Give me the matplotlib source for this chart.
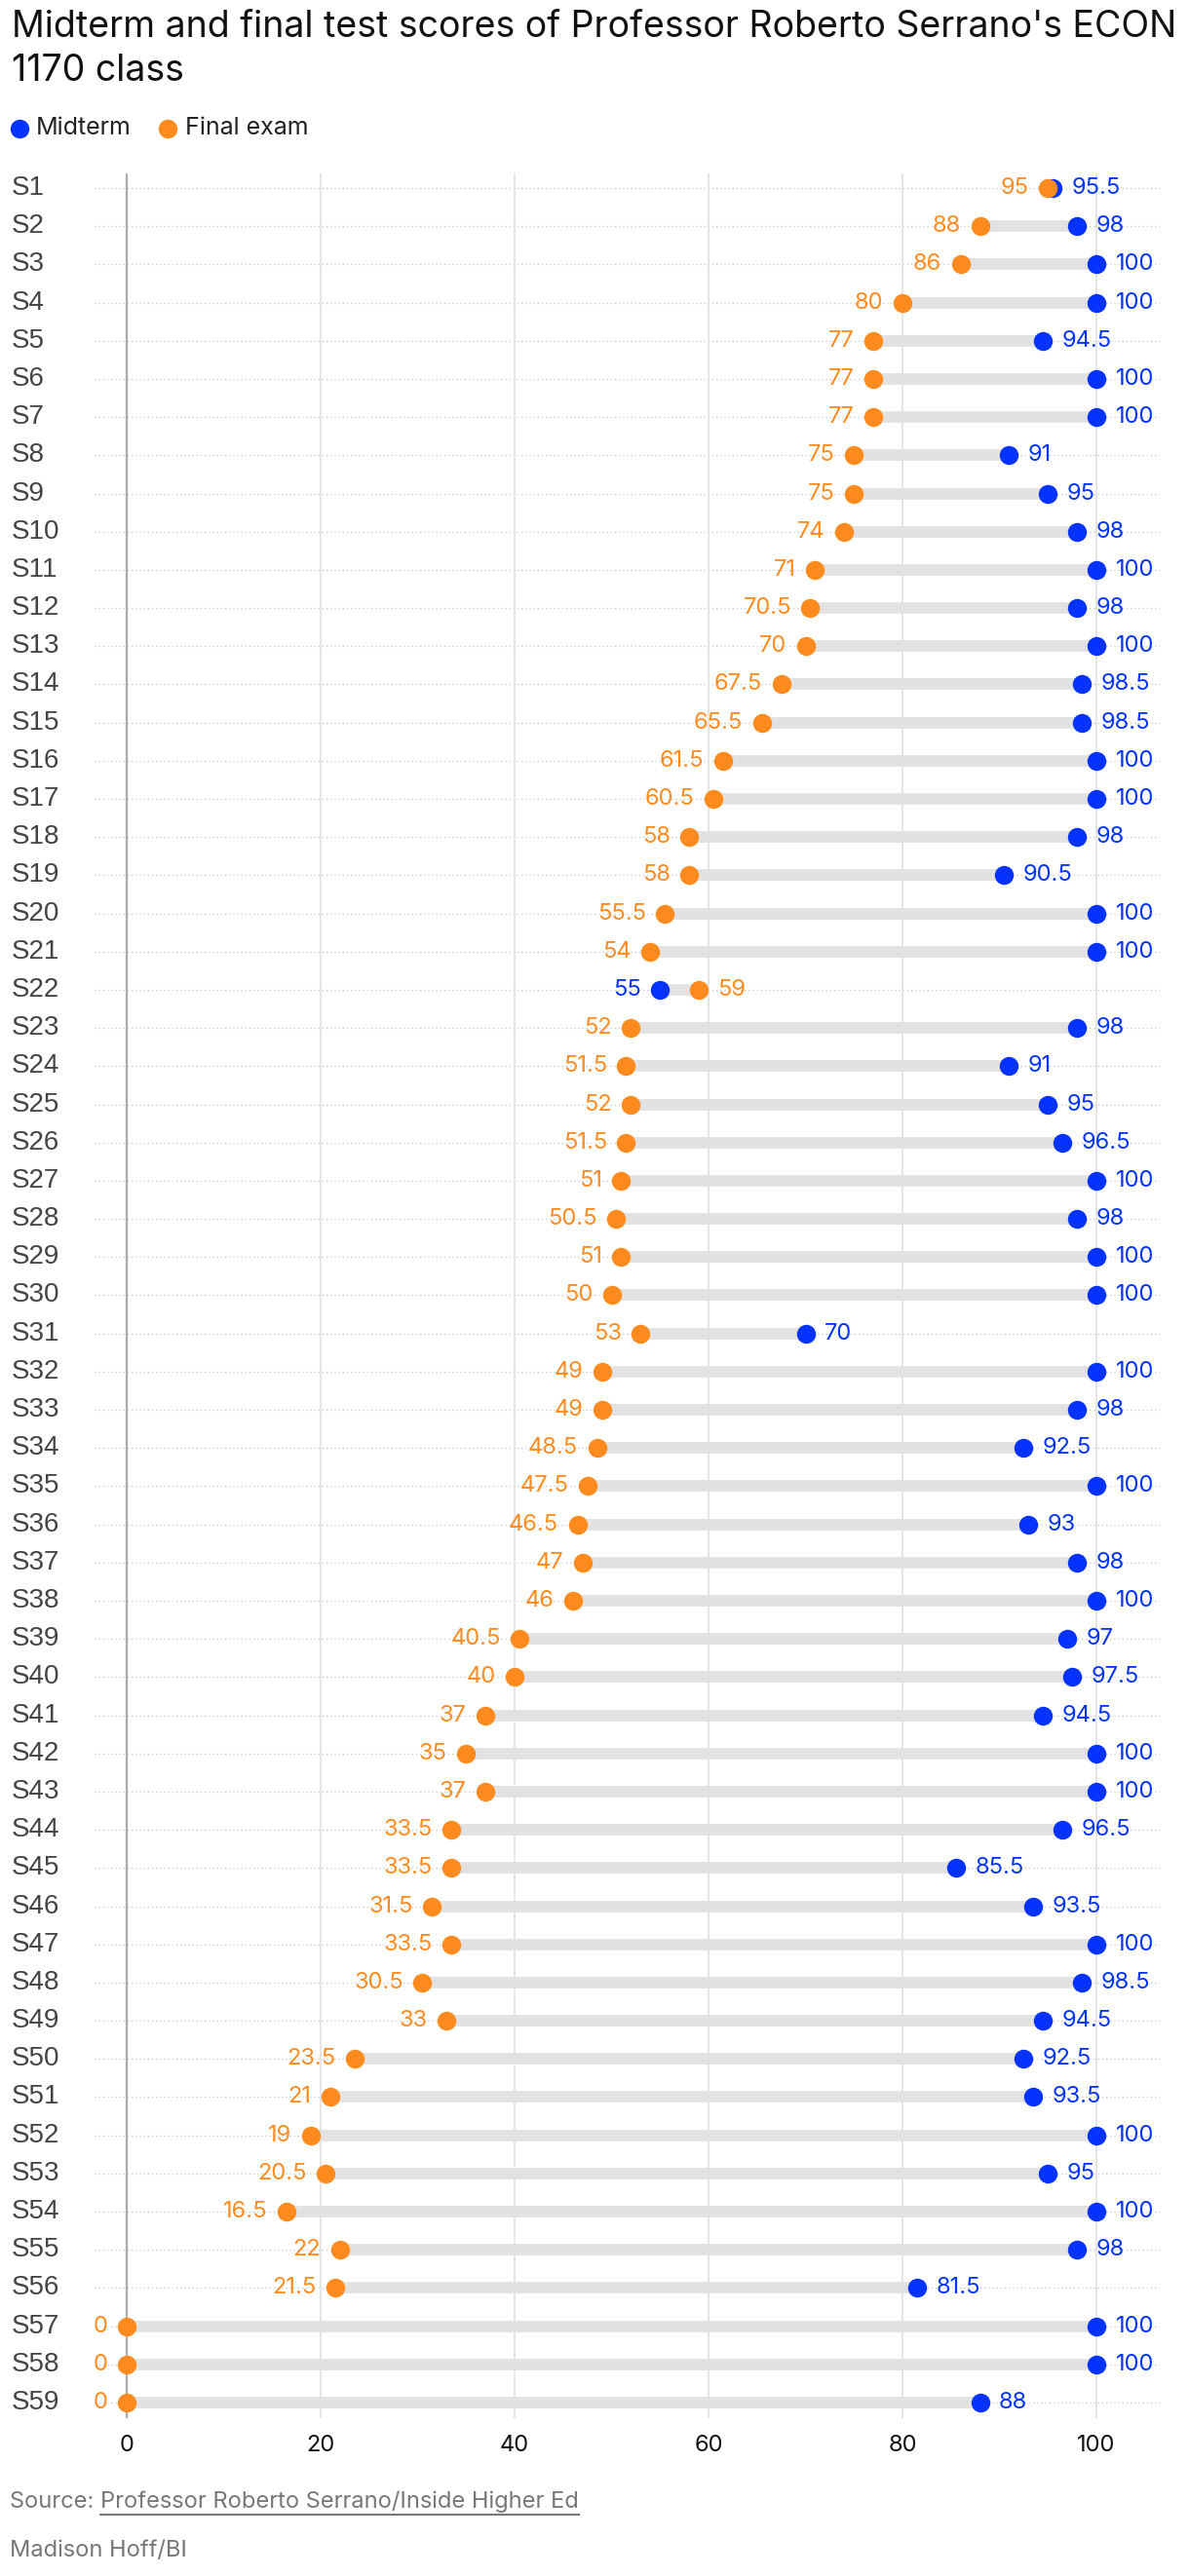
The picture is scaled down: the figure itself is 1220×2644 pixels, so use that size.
import matplotlib
matplotlib.use("Agg")
import matplotlib.pyplot as plt
from matplotlib.lines import Line2D

# Scores, S1 at the top
students = ["S" + str(i) for i in range(1, 60)]
midterm = [95.5, 98, 100, 100, 94.5, 100, 100, 91, 95, 98,
           100, 98, 100, 98.5, 98.5, 100, 100, 98, 90.5, 100,
           100, 55, 98, 91, 95, 96.5, 100, 98, 100, 100,
           70, 100, 98, 92.5, 100, 93, 98, 100, 97, 97.5,
           94.5, 100, 100, 96.5, 85.5, 93.5, 100, 98.5, 94.5, 92.5,
           93.5, 100, 95, 100, 98, 81.5, 100, 100, 88]
final = [95, 88, 86, 80, 77, 77, 77, 75, 75, 74,
         71, 70.5, 70, 67.5, 65.5, 61.5, 60.5, 58, 58, 55.5,
         54, 59, 52, 51.5, 52, 51.5, 51, 50.5, 51, 50,
         53, 49, 49, 48.5, 47.5, 46.5, 47, 46, 40.5, 40,
         37, 35, 37, 33.5, 33.5, 31.5, 33.5, 30.5, 33, 23.5,
         21, 19, 20.5, 16.5, 22, 21.5, 0, 0, 0]
xticks = [0, 20, 40, 60, 80, 100]

BLUE = "#0433ff"
ORANGE = "#ff8b1f"
FONT = "Inter"

W, H = 1220, 2644
fig = plt.figure(figsize=(W / 100, H / 100), dpi=100)

# axes box in pixels: left 97, right 1190, top 178, bottom 2482
ax = fig.add_axes([97 / W, 1 - 2482 / H, (1190 - 97) / W, (2482 - 178) / H])
px_per_unit = (1125 - 130) / 100
x_left = -(130 - 97) / px_per_unit
ax.set_xlim(x_left, 100 + (1190 - 1125) / px_per_unit)
row_h = (2466 - 193) / 58
ax.set_ylim(58 + (2482 - 2466) / row_h, -(193 - 178) / row_h)

for s in ax.spines.values():
    s.set_visible(False)
ax.tick_params(length=0)
ax.set_yticks([])
ax.set_xticks(xticks)
ax.set_xticklabels([str(t) for t in xticks], fontsize=17, family=FONT, color="#111111")
ax.tick_params(axis="x", pad=12)

# vertical grid
for t in xticks:
    if t == 0:
        ax.axvline(t, color="#aaaaaa", lw=1.6, zorder=1)
    else:
        ax.axvline(t, color="#e3e3e3", lw=1.3, zorder=1)

# row labels sit at 12 px from the figure's left edge
label_x = x_left - (97 - 12) / px_per_unit

ys = list(range(len(students)))
for y, name, m, f in zip(ys, students, midterm, final):
    ax.axhline(y, color="#cfcfcf", lw=1.0, ls=(0, (1, 2)), zorder=0)
    ax.plot([min(m, f), max(m, f)], [y, y], color="#e2e2e2", lw=8.5,
            solid_capstyle="butt", zorder=2)
    ax.text(label_x, y, name, fontsize=20, family="Liberation Sans",
            color="#444444", va="center", ha="left", clip_on=False)
    lo, hi = (f, m) if f <= m else (m, f)
    lo_c, hi_c = (ORANGE, BLUE) if f <= m else (BLUE, ORANGE)
    ax.annotate(f"{lo:g}", (lo, y), xytext=(-14, 0), textcoords="offset points",
                ha="right", va="center", fontsize=17, family=FONT, color=lo_c)
    ax.annotate(f"{hi:g}", (hi, y), xytext=(14, 0), textcoords="offset points",
                ha="left", va="center", fontsize=17, family=FONT, color=hi_c)

ax.plot(midterm, ys, "o", color=BLUE, ms=14, mew=0, zorder=3)
ax.plot(final, ys, "o", color=ORANGE, ms=14, mew=0, zorder=4)

# title and legend
fig.text(12 / W, 1 - 28 / H, "Midterm and final test scores of Professor Roberto Serrano's ECON",
         fontsize=27, family=FONT, va="center", ha="left", color="#111111")
fig.text(12 / W, 1 - 73 / H, "1170 class",
         fontsize=27, family=FONT, va="center", ha="left", color="#111111")
fig.add_artist(Line2D([20 / W], [1 - 132 / H], marker="o", ms=14, mew=0, color=BLUE))
fig.text(37 / W, 1 - 132 / H, "Midterm", fontsize=18, family=FONT, va="center", color="#222222")
fig.add_artist(Line2D([172 / W], [1 - 132 / H], marker="o", ms=14, mew=0, color=ORANGE))
fig.text(190 / W, 1 - 132 / H, "Final exam", fontsize=18, family=FONT, va="center", color="#222222")

# source line with underlined link
src = fig.text(10 / W, 1 - 2568 / H, "Source: ", fontsize=17, family=FONT,
               va="center", color="#777777")
r = fig.canvas.get_renderer()
bb = src.get_window_extent(r)
link = fig.text(bb.x1 / W, 1 - 2568 / H, "Professor Roberto Serrano/Inside Higher Ed",
                fontsize=17, family=FONT, va="center", color="#777777")
lb = link.get_window_extent(r)
fig.add_artist(Line2D([lb.x0 / W, lb.x1 / W], [1 - 2581 / H, 1 - 2581 / H],
                      color="#777777", lw=1.5))
fig.text(10 / W, 1 - 2618 / H, "Madison Hoff/BI", fontsize=17, family=FONT,
         va="center", color="#777777")

fig.savefig("out.png", dpi=100)
